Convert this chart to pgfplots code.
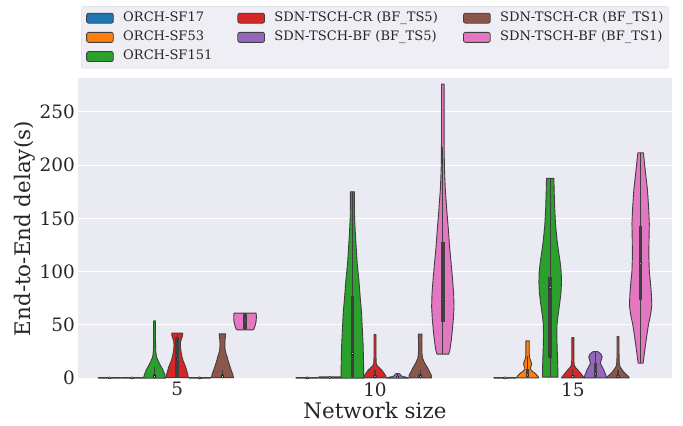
\documentclass[border=0pt]{standalone}
\usepackage{fontspec}
\setmainfont{DejaVu Serif}
\usepackage{pgfplots}
\usepackage{pgfplotstable}
\pgfplotsset{compat=1.18}

\definecolor{cblue}{HTML}{1F77B4}
\definecolor{corange}{HTML}{FF7F0E}
\definecolor{cgreen}{HTML}{2CA02C}
\definecolor{cred}{HTML}{D62728}
\definecolor{cpurple}{HTML}{9467BD}
\definecolor{cbrown}{HTML}{8C564B}
\definecolor{cpink}{HTML}{E377C2}
\definecolor{bgc}{HTML}{EAEAF2}
\definecolor{legbg}{HTML}{EEEEF4}
\definecolor{legedge}{HTML}{D6D6D6}
\definecolor{edgec}{HTML}{3F3F3F}
\definecolor{boxc}{HTML}{3F3F3F}
\definecolor{labc}{HTML}{262626}

% violin profiles: y = delay (s), w = half width (px at 197.8 px per category)
\pgfplotstableread{
y w
0 10.5
0.3 11.3
0.6 10.5
}\Tflat
\pgfplotstableread{
y w
0 10.5
0.6 11.3
1.2 10.5
}\Tflatb
\pgfplotstableread{
y w
0 11
3 10.3
7.8 8.3
12 5.8
15.6 3.8
20 1.9
25 1.2
30 1.0
40 0.9
53.7 0.9
}\Tgreenfive
\pgfplotstableread{
y w
0.5 11
3 10.7
7 9.5
11 8.3
16 6
20 4.8
25 3.8
30 3.2
34 3.3
37 4.3
40 5.3
42.2 5.5
}\Tredfive
\pgfplotstableread{
y w
0.5 11
3 10.5
7 9
11 7.5
16 5.8
20 4.7
24 3.3
28 2.5
33 2.4
38 2.8
41.5 3.3
}\Tbrownfive
\pgfplotstableread{
y w
45.3 8.3
47 9.3
50 10.3
53 11
56 11.3
59 11.3
61 11
}\Tpinkfive
\pgfplotstableread{
y w
0 11.3
8 11.3
20 11
30 10.8
45 10
61 9.2
76 7.8
92 6.5
108 4.8
123 3.8
135 3
150 2.2
165 2
175 2
}\Tgreenten
\pgfplotstableread{
y w
0.3 11.3
2 10.8
4 9.5
6 8
8 6.3
10 4
12 2
14 1.2
20 1
30 1
41 1
}\Tredten
\pgfplotstableread{
y w
0 11
0.8 9
1.5 5
2.5 3
3.5 2.5
4.3 1.5
}\Tpurpleten
\pgfplotstableread{
y w
0.3 11.3
3 11
6 9.3
9.4 7.5
12.5 5.5
15.6 3.7
19 2.3
23 1.8
30 1.6
38 1.8
41.3 1.8
}\Tbrownten
\pgfplotstableread{
y w
22.5 5.8
26 7
30 7.6
36 8.5
42 9.2
55 10.5
67 11.2
80 10.8
92 9.8
108 8.3
123 6.8
140 5.5
155 4.2
168 3.2
177 2.5
190 1.9
202 1.5
230 1.3
276 1.3
}\Tpinkten
\pgfplotstableread{
y w
0.3 11
1.5 10.5
3 9
4.7 7.3
6.5 4.5
8.5 2.8
10 2.8
12 3.8
14 4
16.5 3
19 2
22 1.7
30 1.7
35 1.7
}\Torangefift
\pgfplotstableread{
y w
1 7.7
10 7.6
20 7.3
30 6.9
40 6.7
50 6.8
60 8
70 9.5
80 10.8
90 11.3
100 11
110 9.8
120 8.2
130 6.8
145 5.3
160 4.5
175 4
187.6 3.7
}\Tgreenfift
\pgfplotstableread{
y w
0.3 11.3
2 10
4 8.3
6 6.5
8 4.8
10 2.8
12 1.5
16 1.1
25 1
38 1
}\Tredfift
\pgfplotstableread{
y w
0.3 11.3
2 10.8
5 9.5
8 8.3
11 6.5
14 5
17 5.8
20 6.7
22.5 5.5
24.2 3.5
25 2
}\Tpurplefift
\pgfplotstableread{
y w
0.3 11.3
2 10
4 7.5
6 5.5
8 4
10 2.5
12 1.5
16 1.1
25 1
39 1
}\Tbrownfift
\pgfplotstableread{
y w
14 2.5
20 3.3
30 4.7
40 6.2
50 7.8
60 10
68 11.2
78 10.8
90 9.8
100 8.7
115 8.2
130 8.4
145 8.7
160 8
177 6.8
192 5
205 3.5
211.6 2.8
}\Tpinkfift

% make a closed outline: right side going up, left side coming down
\newcommand{\mkoutline}[1]{%
  \pgfplotstablesort[sort key=y, sort cmp=float >]{\tmpdesc}{#1}%
  \pgfplotstablecreatecol[create col/expr={-\thisrow{w}}]{s}{\tmpdesc}%
  \pgfplotstablecreatecol[create col/expr={\thisrow{w}}]{s}{#1}%
  \pgfplotstablevertcat{#1}{\tmpdesc}%
}

% #1 centre, #2 table, #3 colour
\newcommand{\violin}[3]{%
  \addplot[fill=#3, draw=edgec, line width=0.9bp, line join=round, forget plot] table[x expr={#1+\thisrow{s}/197.8}, y=y]{#2} -- cycle;
}
% #1 centre, #2 whisker low, #3 q1, #4 median, #5 q3, #6 whisker high
\newcommand{\ibox}[6]{%
  \addplot[forget plot, draw=boxc, line width=1.3bp] coordinates {(#1,#2) (#1,#6)};
  \addplot[forget plot, draw=boxc, line width=3.5bp] coordinates {(#1,#3) (#1,#5)};
  \addplot[forget plot, only marks, mark=*, mark size=1.2bp, mark options={fill=white, draw=none}] coordinates {(#1,#4)};
}

\begin{document}%
\mkoutline{\Tflat}\mkoutline{\Tflatb}%
\mkoutline{\Tgreenfive}\mkoutline{\Tredfive}\mkoutline{\Tbrownfive}\mkoutline{\Tpinkfive}%
\mkoutline{\Tgreenten}\mkoutline{\Tredten}\mkoutline{\Tpurpleten}\mkoutline{\Tbrownten}\mkoutline{\Tpinkten}%
\mkoutline{\Torangefift}\mkoutline{\Tgreenfift}\mkoutline{\Tredfift}\mkoutline{\Tpurplefift}\mkoutline{\Tbrownfift}\mkoutline{\Tpinkfift}%
\begin{tikzpicture}
\begin{axis}[
  width=593.4bp, height=300.7bp, scale only axis,
  xmin=-0.5, xmax=2.5, ymin=-0.8, ymax=281.5,
  axis background/.style={fill=bgc},
  axis line style={draw=none},
  major tick length=0pt,
  ymajorgrids, grid style={draw=white, line width=1.1bp},
  xtick={0,1,2}, xticklabels={5,10,15},
  ytick={0,50,100,150,200,250},
  /pgf/number format/assume math mode=true,
  tick label style={font=\fontsize{18.5}{22}\selectfont, text=labc},
  xlabel={Network size}, ylabel={End-to-End delay(s)},
  every axis x label/.style={at={(axis description cs:0.5,-0.106)}, anchor=center, font=\fontsize{21.5}{25}\selectfont, text=labc},
  every axis y label/.style={at={(axis description cs:-0.09,0.5)}, anchor=center, rotate=90, font=\fontsize{21.5}{25}\selectfont, text=labc},
  legend columns=3,
  legend image code/.code={\draw[#1, line width=0.8bp, draw=edgec] (0bp,-5bp) rectangle (26.7bp,5bp);},
  legend style={at={(0.0046,1.033)}, anchor=south west, draw=legedge, fill=legbg, rounded corners=2bp,
    inner xsep=5bp, inner ysep=5bp, row sep=6bp, text=labc,
    font=\fontsize{13.1}{15}\selectfont,
    nodes={inner sep=0pt, text height=9.6bp, text depth=3.6bp},
    /tikz/every odd column/.append style={column sep=9.5bp}},
]
\addlegendimage{fill=cblue}
\addlegendentry{\makebox[114.2bp][l]{ORCH-SF17}}
\addlegendimage{fill=cred}
\addlegendentry{\makebox[188.7bp][l]{SDN-TSCH-CR (BF\_TS5)}}
\addlegendimage{fill=cbrown}
\addlegendentry{\makebox[163.4bp][l]{SDN-TSCH-CR (BF\_TS1)}}
\addlegendimage{fill=corange}
\addlegendentry{\makebox[114.2bp][l]{ORCH-SF53}}
\addlegendimage{fill=cpurple}
\addlegendentry{\makebox[188.7bp][l]{SDN-TSCH-BF (BF\_TS5)}}
\addlegendimage{fill=cpink}
\addlegendentry{\makebox[163.4bp][l]{SDN-TSCH-BF (BF\_TS1)}}
\addlegendimage{fill=cgreen}
\addlegendentry{\makebox[114.2bp][l]{ORCH-SF151}}

% network size 5
\violin{-0.3429}{\Tflat}{cblue}
\violin{-0.2286}{\Tflat}{corange}
\violin{-0.1143}{\Tgreenfive}{cgreen}
\violin{0}{\Tredfive}{cred}
\violin{0.1143}{\Tflat}{cpurple}
\violin{0.2286}{\Tbrownfive}{cbrown}
\violin{0.3429}{\Tpinkfive}{cpink}
% network size 10
\violin{0.6571}{\Tflat}{cblue}
\violin{0.7714}{\Tflatb}{corange}
\violin{0.8857}{\Tgreenten}{cgreen}
\violin{1}{\Tredten}{cred}
\violin{1.1143}{\Tpurpleten}{cpurple}
\violin{1.2286}{\Tbrownten}{cbrown}
\violin{1.3429}{\Tpinkten}{cpink}
% network size 15
\violin{1.6571}{\Tflat}{cblue}
\violin{1.7714}{\Torangefift}{corange}
\violin{1.8857}{\Tgreenfift}{cgreen}
\violin{2}{\Tredfift}{cred}
\violin{2.1143}{\Tpurplefift}{cpurple}
\violin{2.2286}{\Tbrownfift}{cbrown}
\violin{2.3429}{\Tpinkfift}{cpink}

% inner boxes
\ibox{-0.3429}{0}{0.1}{0.25}{0.4}{0.6}
\ibox{-0.2286}{0}{0.1}{0.25}{0.4}{0.6}
\ibox{-0.1143}{0}{0.5}{1.5}{4}{10}
\ibox{0}{0.5}{1.5}{18}{39}{42.2}
\ibox{0.1143}{0}{0.1}{0.25}{0.4}{0.6}
\ibox{0.2286}{0.5}{0.8}{1.5}{4}{8}
\ibox{0.3429}{45.3}{46.5}{54.5}{60}{61}

\ibox{0.6571}{0}{0.1}{0.25}{0.4}{0.6}
\ibox{0.7714}{0}{0.2}{0.5}{0.8}{1.2}
\ibox{0.8857}{0}{1}{23}{77}{175}
\ibox{1}{0.3}{0.6}{1.5}{3}{8}
\ibox{1.1143}{0}{0.4}{1}{2}{4.3}
\ibox{1.2286}{0.3}{0.8}{1.5}{3.5}{8}
\ibox{1.3429}{22.5}{53}{73.5}{128}{217}

\ibox{1.6571}{0}{0.1}{0.25}{0.4}{0.6}
\ibox{1.7714}{0.3}{1}{3}{9}{21}
\ibox{1.8857}{1}{18.8}{85}{95.3}{187.6}
\ibox{2}{0.3}{0.6}{1.5}{3}{8}
\ibox{2.1143}{0.3}{1}{4}{14.6}{25}
\ibox{2.2286}{0.3}{0.6}{1.5}{3}{8}
\ibox{2.3429}{14}{73.5}{108}{143}{211.6}
\end{axis}
\pgfresetboundingbox
\path[use as bounding box] (-78.3bp,-47bp) rectangle (604.7bp,379bp);
\end{tikzpicture}%
\end{document}
